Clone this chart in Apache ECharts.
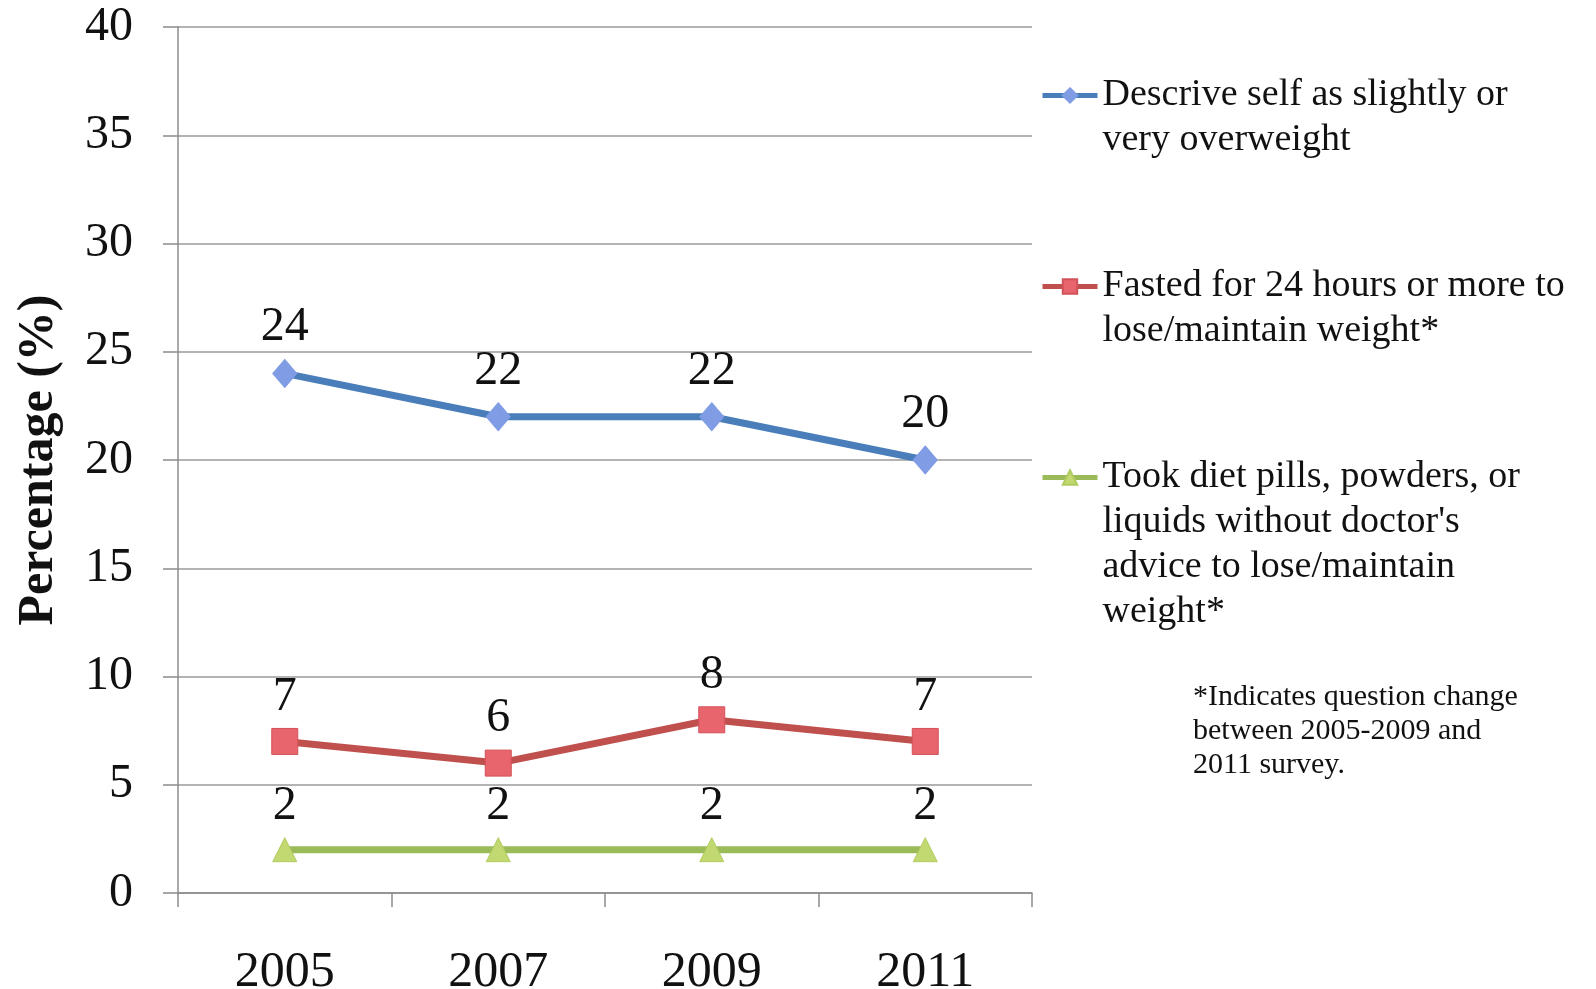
<!DOCTYPE html>
<html>
<head>
<meta charset="utf-8">
<script src="https://cdn.jsdelivr.net/npm/echarts@6/dist/echarts.min.js"></script>
<style>
  html, body { margin: 0; padding: 0; background: #fff; }
  .main { width: 1596px; height: 989px; }
</style>
</head>
<body>
<div class="main"></div>
<script>
var years = ['2005', '2007', '2009', '2011'] // x轴
var overweight = [24, 22, 22, 20]
var fasted = [7, 6, 8, 7]
var dietPills = [2, 2, 2, 2]
var names = [
  'Descrive self as slightly or\nvery overweight',
  'Fasted for 24 hours or more to\nlose/maintain weight*',
  "Took diet pills, powders, or\nliquids without doctor's\nadvice to lose/maintain\nweight*"
]
var note = '*Indicates question change\nbetween 2005-2009 and\n2011 survey.'

var serif = '"Liberation Serif", "Times New Roman", serif'

var MyChart = echarts.init(document.querySelector('.main'))

// 每个图例单独一个legend，前面补空行让第一行文字和图标对齐
function oneLegend(name, top, lines) {
  var pad = ''
  for (var i = 1; i < lines; i++) pad += '\n'
  return {
    data: [name],
    orient: 'vertical',
    left: 1040,
    top: top,
    padding: 0,
    itemWidth: 55,
    itemHeight: 18,
    selectedMode: false,
    lineStyle: { width: 5 },
    formatter: function (n) { return pad + n },
    textStyle: {
      fontFamily: serif,
      fontSize: 38,
      lineHeight: 45,
      color: '#111'
    }
  }
}

var labelStyle = {
  show: true,
  position: 'top',
  distance: 7,
  fontFamily: serif,
  fontSize: 48,
  color: '#111'
}

var option = {
  backgroundColor: '#fff',
  animation: false,
  grid: { left: 178, right: 564, top: 27, bottom: 96, outerBoundsMode: 'none', containLabel: false },
  title: {
    text: note,
    left: 1193,
    top: 680,
    padding: 0,
    textStyle: {
      fontFamily: serif,
      fontSize: 30,
      lineHeight: 34,
      fontWeight: 'normal',
      color: '#111'
    }
  },
  legend: [
    oneLegend(names[0], 28, 2),
    oneLegend(names[1], 219, 2),
    oneLegend(names[2], 320, 4)
  ],
  xAxis: {
    type: 'category',
    data: years,
    boundaryGap: true,
    axisLine: { lineStyle: { color: '#8c8c8c', width: 1.5 } },
    axisTick: { show: true, length: 14, lineStyle: { color: '#8c8c8c', width: 1.5 } },
    axisLabel: { fontFamily: serif, fontSize: 50, color: '#111', margin: 55 }
  },
  yAxis: {
    type: 'value',
    min: 0,
    max: 40,
    interval: 5,
    name: 'Percentage (%)',
    nameLocation: 'middle',
    nameGap: 114,
    nameTextStyle: { fontFamily: serif, fontSize: 50, fontWeight: 'bold', color: '#111' },
    axisLine: { show: true, lineStyle: { color: '#8c8c8c', width: 1.5 } },
    axisTick: { show: true, length: 15, lineStyle: { color: '#8c8c8c', width: 1.5 } },
    axisLabel: { fontFamily: serif, fontSize: 48, color: '#111', margin: 45, padding: [5, 0, 0, 0] },
    splitLine: { lineStyle: { color: '#9a9a9a', width: 1.5 } }
  },
  series: [
    {
      name: names[0],
      type: 'line',
      data: overweight,
      symbol: 'diamond',
      symbolSize: [24, 28],
      lineStyle: { color: '#4a7ebb', width: 7 },
      itemStyle: { color: '#7f9ce4', borderColor: '#7f9ce4', borderWidth: 1 },
      label: labelStyle
    },
    {
      name: names[1],
      type: 'line',
      data: fasted,
      symbol: 'rect',
      symbolSize: 26,
      lineStyle: { color: '#c0504d', width: 7 },
      itemStyle: { color: '#e8656d', borderColor: '#d2525a', borderWidth: 1 },
      label: labelStyle
    },
    {
      name: names[2],
      type: 'line',
      data: dietPills,
      symbol: 'triangle',
      symbolSize: 24,
      lineStyle: { color: '#9bbb59', width: 7 },
      itemStyle: { color: '#c2d870', borderColor: '#b0cc60', borderWidth: 1 },
      label: labelStyle
    }
  ]
}
MyChart.setOption(option)
</script>
</body>
</html>
